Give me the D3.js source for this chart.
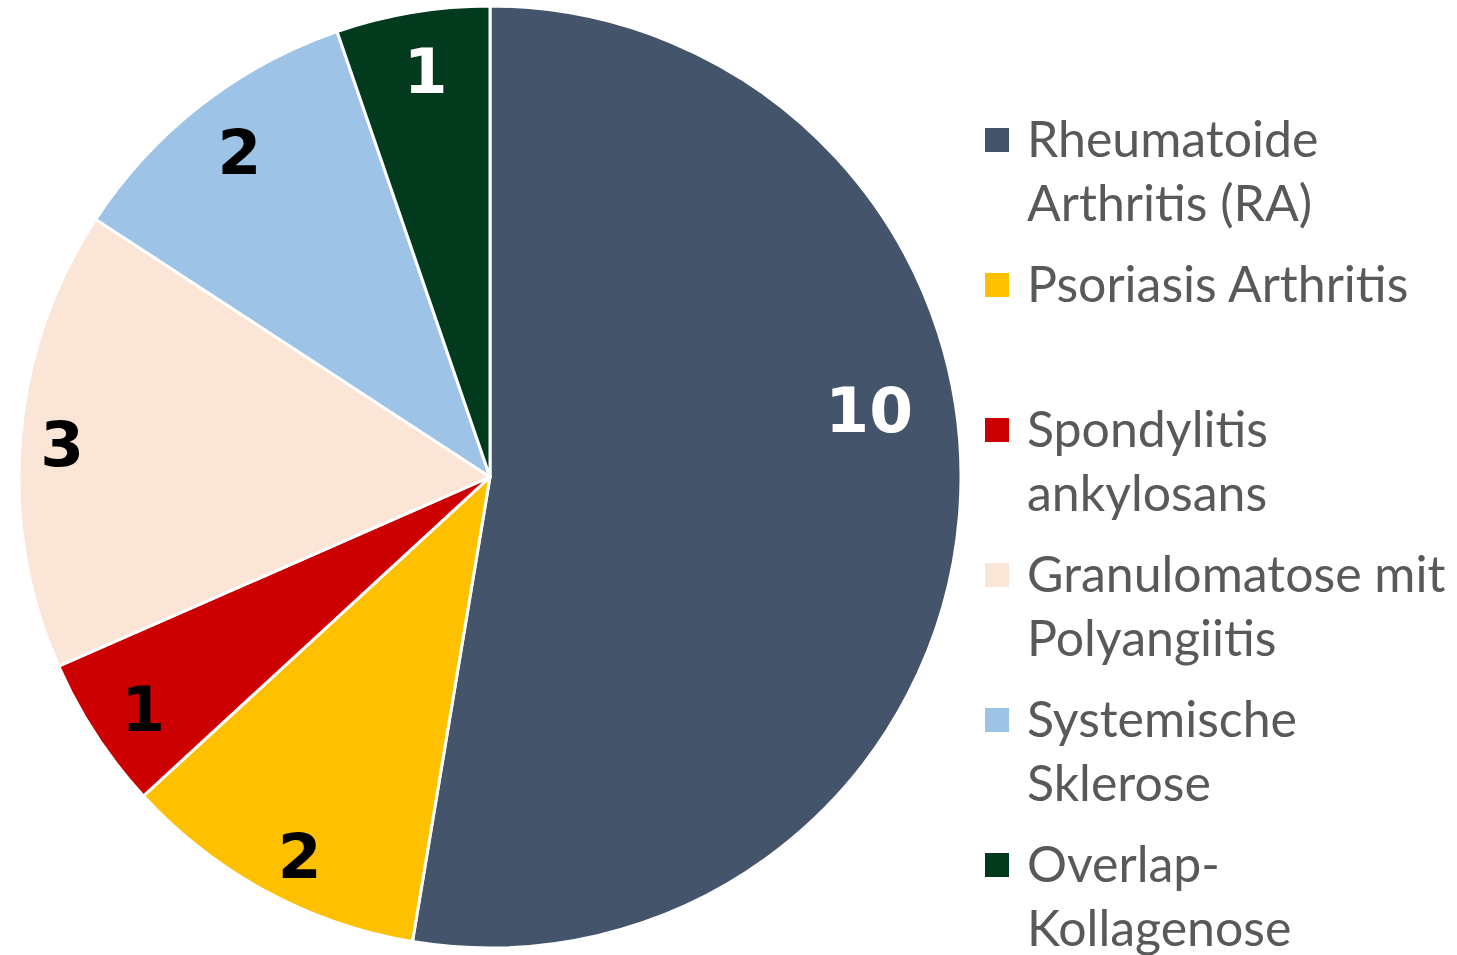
<!DOCTYPE html>
<html>
<head>
<meta charset="utf-8">
<script src="https://cdn.jsdelivr.net/npm/d3@7"></script>
<style>
  html, body { margin: 0; padding: 0; background: #fff; }
  svg { display: block; }
</style>
</head>
<body>
<svg id="chart" width="1457" height="955"></svg>
<script>
// categories, counts and colours (in order, clockwise from 12 o'clock)
const categories = [
  ["Rheumatoide", "Arthritis (RA)"],
  ["Psoriasis Arthritis"],
  ["Spondylitis", "ankylosans"],
  ["Granulomatose mit", "Polyangiitis"],
  ["Systemische", "Sklerose"],
  ["Overlap-", "Kollagenose"]
];
const counts = [10, 2, 1, 3, 2, 1];
const colors = ["#44546A", "#FFC000", "#CC0000", "#FBE5D6", "#9DC3E6", "#023A1E"];
const labelColors = ["#fff", "#000", "#000", "#000", "#000", "#fff"];

const width = 1457, height = 955;
const cx = 490, cy = 477, radius = 471;

const svg = d3.select("#chart");

const pie = d3.pie().sort(null).value(d => d);
const arcs = pie(counts);

const arc = d3.arc().innerRadius(0).outerRadius(radius);

const g = svg.append("g").attr("transform", `translate(${cx},${cy})`);

g.selectAll("path.slice")
  .data(arcs)
  .join("path")
  .attr("class", "slice")
  .attr("d", arc)
  .attr("fill", (d, i) => colors[i])
  .attr("stroke", "#fff")
  .attr("stroke-width", 3)
  .attr("stroke-linejoin", "round");

// data labels sit near the outer edge; the big slice label is nudged up (excel best fit)
const labelRadius = [0.81, 0.9, 0.89, 0.92, 0.88, 0.88];
const angleShift = [-0.265, -0.02, 0, 0, 0, 0];
const labelPos = (d, i) => {
  const a = (d.startAngle + d.endAngle) / 2 + angleShift[i];
  return [Math.sin(a) * radius * labelRadius[i] + 4, -Math.cos(a) * radius * labelRadius[i] + 3];
};

g.selectAll("text.val")
  .data(arcs)
  .join("text")
  .attr("class", "val")
  .attr("x", (d, i) => labelPos(d, i)[0])
  .attr("y", (d, i) => labelPos(d, i)[1])
  .attr("text-anchor", "middle")
  .attr("dominant-baseline", "central")
  .attr("font-family", "DejaVu Sans")
  .attr("font-weight", "bold")
  .attr("font-size", 63)
  .attr("fill", (d, i) => labelColors[i])
  .text(d => d.data);

// legend
const legendX = 985, legendY0 = 140, legendStep = 145, lineH = 64;
const legend = svg.append("g");

const item = legend.selectAll("g.item")
  .data(categories)
  .join("g")
  .attr("class", "item")
  .attr("transform", (d, i) => `translate(${legendX},${legendY0 + i * legendStep})`);

item.append("rect")
  .attr("x", 0)
  .attr("y", -12)
  .attr("width", 24)
  .attr("height", 24)
  .attr("fill", (d, i) => colors[i]);

item.each(function(lines) {
  const t = d3.select(this).append("text")
    .attr("x", 42)
    .attr("y", 0)
    .attr("font-family", "Lato, 'Open Sans', sans-serif")
    .attr("font-size", 50)
    .attr("fill", "#595959");
  lines.forEach((ln, k) => {
    t.append("tspan")
      .attr("x", 42)
      .attr("y", k * lineH + 17)
      .text(ln);
  });
});
</script>
</body>
</html>
